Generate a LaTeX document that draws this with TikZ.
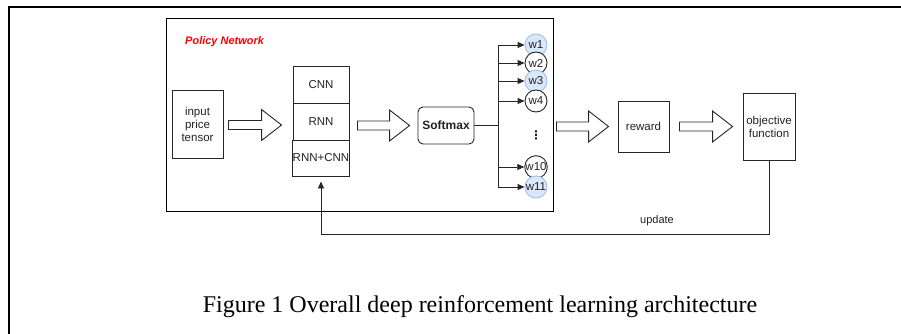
\documentclass[tikz,border=0pt]{standalone}
\usepackage{fontspec}
\setmainfont{Liberation Sans}
\newfontfamily\capfont{Liberation Serif}
\newfontfamily\symfont{DejaVu Sans}
\usetikzlibrary{arrows.meta,calc}
\definecolor{lineclr}{HTML}{262626}
\definecolor{txtclr}{HTML}{222222}
\definecolor{wfill}{HTML}{DAE8FC}
\definecolor{wline}{HTML}{A3BEE6}

% hollow block arrow from #1 to the x of #2, centred on the y of #1
\newcommand\blockarrow[2]{%
  \draw[hollow] let \p1=#1, \p2=#2 in
    (\x1,\y1+4.5pt) -- (\x2-20pt,\y1+4.5pt) -- (\x2-20pt,\y1+15.5pt) --
    (\x2,\y1) -- (\x2-20pt,\y1-15.5pt) -- (\x2-20pt,\y1-4.5pt) --
    (\x1,\y1-4.5pt) -- cycle;}

\begin{document}
\begin{tikzpicture}[x=1pt,y=-1pt,
  basefont/.style={font=\fontsize{11.5}{13}\selectfont},
  box/.style={draw=lineclr, line width=0.9pt, inner sep=0pt, align=center,
    text=txtclr, basefont},
  hollow/.style={draw=lineclr, line width=0.9pt, fill=white},
  conn/.style={draw=lineclr, line width=0.9pt,
    -{Triangle[length=7pt,width=6pt]}},
  wnode/.style={circle, draw=lineclr, line width=0.9pt, fill=white,
    minimum size=22pt, inner sep=0pt, text=txtclr,
    font=\fontsize{11.5}{12}\selectfont},
  wblue/.style={wnode, draw=wline, fill=wfill},
]
\useasboundingbox (0,0) rectangle (901,334);

% outer frame (top and left edges)
\draw[line width=2pt, black] (9,334) -- (9,7) -- (901,7);

% policy network frame
\node[draw=black, line width=0.9pt, minimum width=387pt, minimum height=193pt,
  inner sep=0pt] (policy) at (359.5,114.5) {};
\node[anchor=west, text=red, inner sep=0pt,
  font=\bfseries\itshape\fontsize{11}{13}\selectfont] (plabel) at (185,42)
  {Policy Network};

% input
\node[box, minimum width=51pt, minimum height=68pt] (inp) at (197.5,124)
  {input\\price\\tensor};

% network stack
\node[box, minimum width=56pt, minimum height=37pt] (cnn) at (321,84.5) {CNN};
\node[box, minimum width=56pt, minimum height=37pt] (rnn) at (321,121.5) {RNN};
\node[box, minimum width=56pt, minimum height=36pt] (rnncnn) at (321,158) {RNN+CNN};

% softmax
\node[box, rounded corners=5pt, minimum width=56pt, minimum height=37pt,
  font=\bfseries\fontsize{12}{13}\selectfont] (sm) at (446,125.5) {Softmax};

% portfolio weights
\node[wblue] (w1) at (536,45) {w1};
\node[wnode] (w2) at (536,63) {w2};
\node[wblue] (w3) at (536,81) {w3};
\node[wnode] (w4) at (536,101) {w4};
\node[text=txtclr, font=\symfont\bfseries\fontsize{12}{12}\selectfont, inner sep=0pt]
  (dots) at (536,135) {⋮};
\node[wnode] (w10) at (536,167) {w10};
\node[wblue] (w11) at (536,187) {w11};

% reward and objective
\node[box, minimum width=51pt, minimum height=51pt] (rw) at (643.5,126.5) {reward};
\node[box, minimum width=52pt, minimum height=67pt] (obj) at (769,126.5)
  {objective\\function};

% block arrows
\blockarrow{($(inp.east)+(5,1)$)}{($(cnn.west)+(-11,0)$)}
\blockarrow{($(rnn.east |- sm.west)+(8,0)$)}{($(sm.west)+(-8,0)$)}
\blockarrow{($(policy.east |- rw.west)+(3,0)$)}{($(rw.west)+(-9,0)$)}
\blockarrow{($(rw.east)+(10,0)$)}{($(obj.west)+(-10,0)$)}

% softmax fan-out
\coordinate (split) at (498,125.5);
\draw[draw=lineclr, line width=1.7pt] (sm.east) -- (split);
\draw[draw=lineclr, line width=0.9pt] (split |- w1) -- (split |- w11);
\foreach \w in {w1,w2,w3,w4,w10,w11}
  \draw[conn] (split |- \w) -- (\w.west);

% update loop
\coordinate (loop) at ($(obj.south)+(0,74)$);
\draw[conn, shorten >=5pt] (obj.south) -- (loop) -| (rnncnn.south);
\node[text=txtclr, font=\fontsize{11}{12}\selectfont] (upd) at (657,221) {update};

% caption
\node[anchor=base, inner sep=0pt, font=\capfont\fontsize{24}{28}\selectfont]
  (cap) at (480,312) {Figure 1 Overall deep reinforcement learning architecture};
\end{tikzpicture}
\end{document}
